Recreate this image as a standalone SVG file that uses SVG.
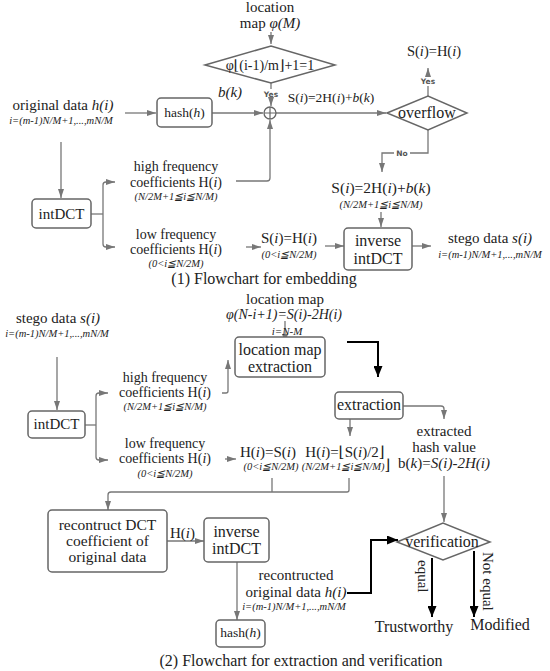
<svg xmlns="http://www.w3.org/2000/svg" width="550" height="671" viewBox="0 0 550 671">
<style>
text{font-family:"Liberation Serif","DejaVu Serif",serif;fill:#222}
.c{text-anchor:middle}
.f14{font-size:14px}
.f15{font-size:15px}
.f16{font-size:16px}
.s{font-size:10.5px;font-style:italic;text-anchor:middle}
.i{font-style:italic}
.y{font-family:"DejaVu Sans",sans-serif;font-size:7.5px;font-weight:bold;text-anchor:middle;fill:#555}
.box{fill:#fff;stroke:#666;stroke-width:1.5}
.ln{fill:none;stroke:#777;stroke-width:1.3}
.bk{fill:none;stroke:#000;stroke-width:2}
.cap{font-size:16px;text-anchor:middle}
</style>
<defs>
<marker id="a" markerWidth="9" markerHeight="6" refX="9" refY="3" orient="auto" markerUnits="userSpaceOnUse"><path d="M0,0L9,3L0,6z" fill="#777"/></marker>
<marker id="b" markerWidth="11" markerHeight="9" refX="11" refY="4.5" orient="auto" markerUnits="userSpaceOnUse"><path d="M0,0L11,4.5L0,9z" fill="#000"/></marker>
</defs>

<g id="connectors">
<path class="ln" d="M271,32V44" marker-end="url(#a)"/>
<path class="ln" d="M271,83V89"/>
<path class="ln" d="M271,99V106" marker-end="url(#a)"/>
<path class="ln" d="M125,113H156" marker-end="url(#a)"/>
<path class="ln" d="M212,113H263" marker-end="url(#a)"/>
<path class="ln" d="M276,113H386" marker-end="url(#a)"/>
<path class="ln" d="M428,96V86"/>
<path class="ln" d="M428,77V68" marker-end="url(#a)"/>
<path class="ln" d="M428,130V153H410"/>
<path class="ln" d="M394,153H382V172" marker-end="url(#a)"/>
<path class="ln" d="M381,212V227" marker-end="url(#a)"/>
<path class="ln" d="M325,246H344" marker-end="url(#a)"/>
<path class="ln" d="M246,247H261" marker-end="url(#a)"/>
<path class="ln" d="M412,246H431" marker-end="url(#a)"/>
<path class="ln" d="M236,181H267Q270,181 270,178V120" marker-end="url(#a)"/>
<path class="ln" d="M61,142V198" marker-end="url(#a)"/>
<path class="ln" d="M91,214H103"/>
<path class="ln" d="M103,214V185Q103,182 106,182H115" marker-end="url(#a)"/>
<path class="ln" d="M103,214V244Q103,247 106,247H115" marker-end="url(#a)"/>

<path class="ln" d="M57,357V410" marker-end="url(#a)"/>
<path class="ln" d="M85,425H96"/>
<path class="ln" d="M96,425V396Q96,393 99,393H108" marker-end="url(#a)"/>
<path class="ln" d="M96,425V457Q96,460 99,460H108" marker-end="url(#a)"/>
<path class="ln" d="M222,393H226Q228,393 228,391V360" marker-end="url(#a)"/>
<path class="ln" d="M285,321V343" marker-end="url(#a)"/>
<path class="bk" d="M347,342H378V377" marker-end="url(#b)"/>
<path class="ln" d="M403,406H441Q444,406 444,409V419" marker-end="url(#a)"/>
<path class="ln" d="M350,419V436" marker-end="url(#a)"/>
<path class="ln" d="M225,459H236" marker-end="url(#a)"/>
<path class="ln" d="M272,478V492"/>
<path class="ln" d="M349,478V490Q349,492 347,492H111Q108,492 108,495V510" marker-end="url(#a)"/>
<path class="ln" d="M167,541H204" marker-end="url(#a)"/>
<path class="ln" d="M237,562V620" marker-end="url(#a)"/>
<path class="bk" d="M347,593H371V540H398" marker-end="url(#b)"/>
<path class="ln" d="M444,476V522" marker-end="url(#a)"/>
<path class="bk" d="M432,558V617" marker-end="url(#b)"/>
<path class="bk" d="M474,551V617" marker-end="url(#b)"/>
</g>

<!-- Part 1 -->
<g id="location-map-input">
<text class="c f15" x="270" y="12">location</text>
<text class="c f15" x="270" y="28">map <tspan class="i">φ(M)</tspan></text>
</g>
<g id="cond-diamond">
<polygon class="box" points="205,65 271,46 335,65 271,83"/>
<text class="c f14" x="270" y="70">φ⌊(i-1)/m⌋+1=1</text>
</g>
<text class="y" x="271" y="97">Yes</text>
<text class="f15 i" x="230" y="97" text-anchor="middle">b(k)</text>
<g id="xor">
<circle cx="270" cy="113" r="6" fill="#fff" stroke="#666" stroke-width="1.3"/>
<path d="M264,113H276M270,107V119" stroke="#666" stroke-width="1.2"/>
</g>
<text class="c" x="331" y="102" style="font-size:13.5px">S(<tspan class="i">i</tspan>)=2H(<tspan class="i">i</tspan>)+<tspan class="i">b</tspan>(<tspan class="i">k</tspan>)</text>
<g id="original-data">
<text class="c f15" x="63" y="110">original data <tspan class="i">h(i)</tspan></text>
<text class="s" x="61" y="124">i=(m-1)N/M+1,...,mN/M</text>
</g>
<g id="hash1">
<rect class="box" x="157" y="98" width="55" height="29" rx="4"/>
<text class="c" x="184.5" y="117" style="font-size:13.5px">hash(<tspan class="i">h</tspan>)</text>
</g>
<g id="overflow">
<polygon class="box" points="387,113 428,96 467,113 428,130"/>
<text class="c f16" x="427" y="118">overflow</text>
</g>
<text class="y" x="428" y="84">Yes</text>
<text class="y" x="402" y="156">No</text>
<text class="c" x="434" y="56" style="font-size:14.5px">S(<tspan class="i">i</tspan>)=H(<tspan class="i">i</tspan>)</text>
<g id="embed-high">
<text class="c" x="381" y="193" style="font-size:15.5px">S(<tspan class="i">i</tspan>)=2H(<tspan class="i">i</tspan>)+<tspan class="i">b</tspan>(<tspan class="i">k</tspan>)</text>
<text class="s" x="381" y="208">(N/2M+1≦i≦N/M)</text>
</g>
<g id="intDCT1">
<rect class="box" x="32" y="199" width="59" height="29" rx="4"/>
<text class="c f15" x="61.5" y="219">intDCT</text>
</g>
<g id="high1">
<text class="c f14" x="176" y="171">high frequency</text>
<text class="c f14" x="176" y="187">coefficients H(<tspan class="i">i</tspan>)</text>
<text class="s" x="176" y="200">(N/2M+1≦i≦N/M)</text>
</g>
<g id="low1">
<text class="c f14" x="176" y="239">low frequency</text>
<text class="c f14" x="176" y="254">coefficients H(<tspan class="i">i</tspan>)</text>
<text class="s" x="176" y="267">(0&lt;i≦N/2M)</text>
</g>
<g id="embed-low">
<text class="c f15" x="289" y="243">S(<tspan class="i">i</tspan>)=H(<tspan class="i">i</tspan>)</text>
<text class="s" x="289" y="258">(0&lt;i≦N/2M)</text>
</g>
<g id="inverse1">
<rect class="box" x="344" y="228" width="68" height="42" rx="4"/>
<text class="c f16" x="378" y="246">inverse</text>
<text class="c f16" x="378" y="264">intDCT</text>
</g>
<g id="stego1">
<text class="c f15" x="490" y="243">stego data <tspan class="i">s(i)</tspan></text>
<text class="s" x="490" y="258">i=(m-1)N/M+1,...,mN/M</text>
</g>
<text class="cap" x="264" y="284">(1) Flowchart for embedding</text>

<!-- Part 2 -->
<g id="stego2">
<text class="c f15" x="58" y="323">stego data <tspan class="i">s(i)</tspan></text>
<text class="s" x="57" y="337">i=(m-1)N/M+1,...,mN/M</text>
</g>
<g id="intDCT2">
<rect class="box" x="28" y="411" width="57" height="27" rx="4"/>
<text class="c f15" x="56.5" y="429">intDCT</text>
</g>
<g id="high2">
<text class="c f14" x="165" y="382">high frequency</text>
<text class="c f14" x="165" y="397">coefficients H(<tspan class="i">i</tspan>)</text>
<text class="s" x="165" y="410">(N/2M+1≦i≦N/M)</text>
</g>
<g id="low2">
<text class="c f14" x="165" y="448">low frequency</text>
<text class="c f14" x="165" y="463">coefficients H(<tspan class="i">i</tspan>)</text>
<text class="s" x="165" y="477">(0&lt;i≦N/2M)</text>
</g>
<g id="locmap-input">
<text class="c f15" x="285" y="304">location map</text>
<text class="c i" x="284" y="319" style="font-size:14px">φ(N-i+1)=S(i)-2H(i)</text>
<text class="c i" x="287" y="335" style="font-size:11px">i=N-M</text>
</g>
<g id="locmap-extraction">
<rect class="box" x="235" y="337" width="90" height="40" rx="4"/>
<text class="c f16" x="280" y="355">location map</text>
<text class="c f16" x="280" y="372">extraction</text>
</g>
<g id="extraction">
<rect class="box" x="335" y="392" width="68" height="27" rx="4"/>
<text class="c f16" x="369" y="410">extraction</text>
</g>
<g id="hash-value">
<text class="c f15" x="444" y="436">extracted</text>
<text class="c f15" x="444" y="452">hash value</text>
<text class="c f15" x="444" y="468">b(<tspan class="i">k</tspan>)=<tspan class="i">S(i)-2H(i)</tspan></text>
</g>
<g id="rec-low">
<text class="c f15" x="268" y="457">H(<tspan class="i">i</tspan>)=S(<tspan class="i">i</tspan>)</text>
<text class="s" x="271" y="470">(0&lt;i≦N/2M)</text>
</g>
<g id="rec-high">
<text class="c f15" x="345" y="457">H(<tspan class="i">i</tspan>)=⌊S(<tspan class="i">i</tspan>)/2⌋</text>
<text class="s" x="346" y="470">(N/2M+1≦i≦N/M)<tspan style="font-style:normal;font-size:15px">⌋</tspan></text>
</g>
<g id="reconstruct">
<rect class="box" x="48" y="510" width="119" height="62" rx="4"/>
<text class="c" x="107.5" y="530" style="font-size:15.5px">recontruct DCT</text>
<text class="c" x="107.5" y="546" style="font-size:15.5px">coefficient of</text>
<text class="c" x="107.5" y="562" style="font-size:15.5px">original data</text>
</g>
<text class="f15" x="170" y="538">H(<tspan class="i">i</tspan>)</text>
<g id="inverse2">
<rect class="box" x="204" y="518" width="65" height="44" rx="4"/>
<text class="c f16" x="236.5" y="537">inverse</text>
<text class="c f16" x="236.5" y="554">intDCT</text>
</g>
<g id="hash2">
<rect class="box" x="216" y="620" width="49" height="27" rx="4"/>
<text class="c" x="240.5" y="637" style="font-size:13.5px">hash(<tspan class="i">h</tspan>)</text>
</g>
<g id="reconstructed-data">
<text class="c f15" x="296" y="580">recontructed</text>
<text class="c f15" x="296" y="597">original data <tspan class="i">h(i)</tspan></text>
<text class="s" x="294" y="610">i=(m-1)N/M+1,...,mN/M</text>
</g>
<g id="verification">
<polygon class="box" points="397,542 443,523 490,542 443,560"/>
<text class="c f16" x="442" y="547">verification</text>
</g>
<text class="f15" transform="translate(418,560) rotate(90)">equal</text>
<text class="f15" transform="translate(483,552) rotate(90)">Not equal</text>
<text class="c f16" x="414" y="632">Trustworthy</text>
<text class="c f16" x="500" y="630">Modified</text>
<text class="cap" x="301" y="666">(2) Flowchart for extraction and verification</text>
</svg>
